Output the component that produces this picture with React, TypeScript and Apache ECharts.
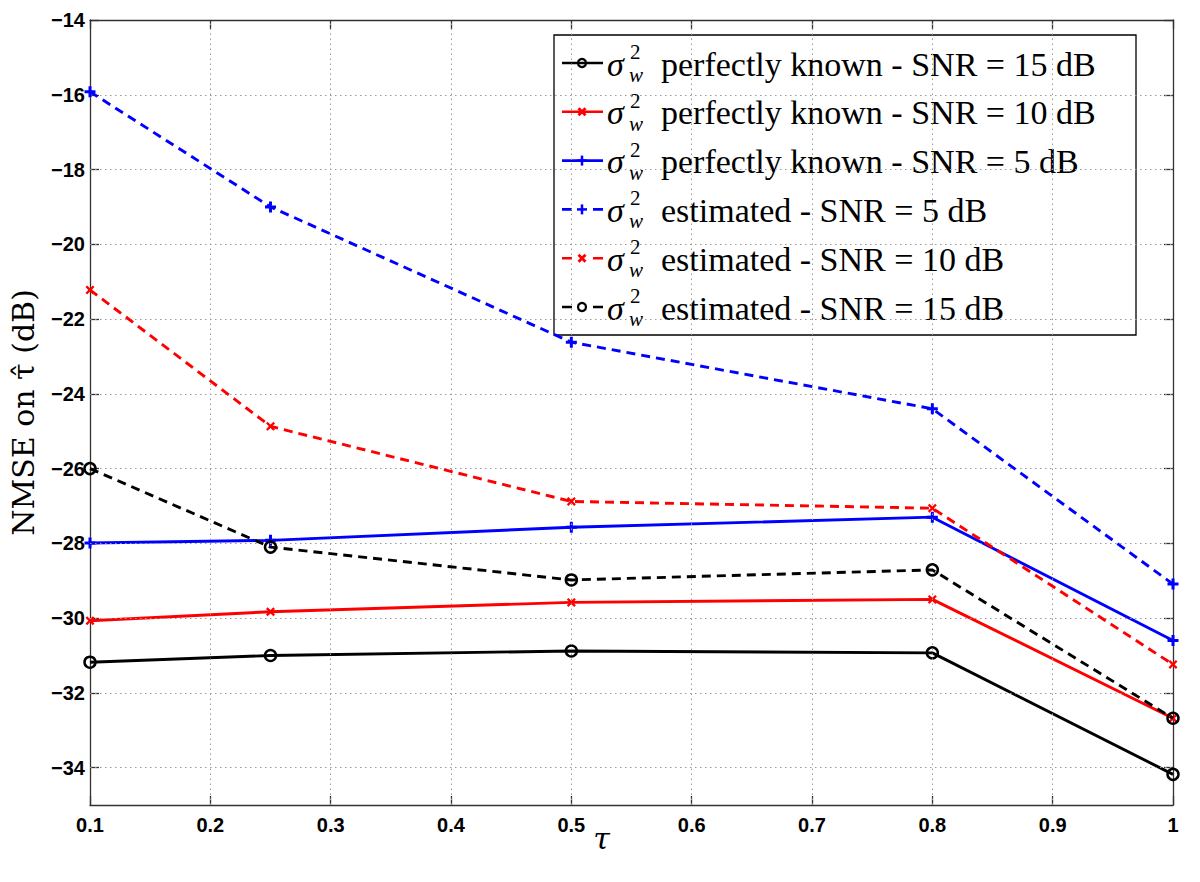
import React, { useEffect, useRef } from 'react';
import * as echarts from 'echarts';

// ---- data ----
const tauValues = [0.1, 0.25, 0.5, 0.8, 1];
const knownSnr15 = [-31.18, -31.0, -30.88, -30.93, -34.18];
const knownSnr10 = [-30.07, -29.83, -29.58, -29.5, -32.68];
const knownSnr5 = [-27.99, -27.92, -27.57, -27.3, -30.6];
const estSnr5 = [-15.92, -19.0, -22.62, -24.4, -29.09];
const estSnr10 = [-21.22, -24.87, -26.88, -27.06, -31.24];
const estSnr15 = [-26.0, -28.1, -28.98, -28.71, -32.68];

const legendLabels = [
  'perfectly known - SNR = 15 dB',
  'perfectly known - SNR = 10 dB',
  'perfectly known - SNR = 5 dB',
  'estimated - SNR = 5 dB',
  'estimated - SNR = 10 dB',
  'estimated - SNR = 15 dB',
];
const yTickValues = [-34, -32, -30, -28, -26, -24, -22, -20, -18, -16, -14];
const yGridValues = [-34, -32, -30, -28, -26, -24, -22, -20, -18, -16];
const xGridValues = [0.2, 0.3, 0.4, 0.5, 0.6, 0.7, 0.8, 0.9];

const BLUE = '#0000ff';
const RED = '#ff0000';
const BLACK = '#000000';
const PLUS = 'path://M4,0H7V4H11V7H7V11H4V7H0V4H4Z';
const CROSS = 'path://M2,0L5.5,3.5L9,0L11,2L7.5,5.5L11,9L9,11L5.5,7.5L2,11L0,9L3.5,5.5L0,2Z';

type Def = { data: number[]; color: string; dashed: boolean; marker: 'circle' | 'plus' | 'cross' };
const defs: Def[] = [
  { data: knownSnr15, color: BLACK, dashed: false, marker: 'circle' },
  { data: knownSnr10, color: RED, dashed: false, marker: 'cross' },
  { data: knownSnr5, color: BLUE, dashed: false, marker: 'plus' },
  { data: estSnr5, color: BLUE, dashed: true, marker: 'plus' },
  { data: estSnr10, color: RED, dashed: true, marker: 'cross' },
  { data: estSnr15, color: BLACK, dashed: true, marker: 'circle' },
];

const TICK_FONT = '"Liberation Sans", Arial, sans-serif';
const SERIF = '"DejaVu Serif", serif';
const LEGEND_FONT = 'Liberation Serif';
const ROW_Y0 = 63;
const ROW_STEP = 48.8;

function txt(text: string, x: number, y: number, size: number, italic: boolean) {
  return {
    type: 'text',
    style: {
      text,
      x,
      y,
      fill: '#000',
      align: 'left',
      verticalAlign: 'middle',
      fontFamily: LEGEND_FONT,
      fontSize: size,
      fontStyle: italic ? 'italic' : 'normal',
    },
  };
}

function buildLegend() {
  const children: any[] = [];
  children.push({
    type: 'rect',
    shape: { x: 554, y: 35, width: 582, height: 300 },
    style: { fill: '#fff', stroke: '#000', lineWidth: 1.3 },
  });
  defs.forEach((d, i) => {
    const y = ROW_Y0 + i * ROW_STEP;
    children.push({
      type: 'line',
      shape: { x1: 562, y1: y, x2: 603, y2: y },
      style: { stroke: d.color, lineWidth: 2.6, lineDash: d.dashed ? [10, 21] : null },
    });
    const cx = 582;
    if (d.marker === 'circle') {
      children.push({ type: 'circle', shape: { cx, cy: y, r: 4 }, style: { fill: 'none', stroke: d.color, lineWidth: 2.2 } });
    } else if (d.marker === 'plus') {
      children.push({ type: 'line', shape: { x1: cx - 5, y1: y, x2: cx + 5, y2: y }, style: { stroke: d.color, lineWidth: 2.5 } });
      children.push({ type: 'line', shape: { x1: cx, y1: y - 5, x2: cx, y2: y + 5 }, style: { stroke: d.color, lineWidth: 2.5 } });
    } else {
      children.push({ type: 'line', shape: { x1: cx - 3.5, y1: y - 3.5, x2: cx + 3.5, y2: y + 3.5 }, style: { stroke: d.color, lineWidth: 2.8 } });
      children.push({ type: 'line', shape: { x1: cx - 3.5, y1: y + 3.5, x2: cx + 3.5, y2: y - 3.5 }, style: { stroke: d.color, lineWidth: 2.8 } });
    }
    children.push(txt('σ', 607, y + 1, 34, true));
    children.push(txt('2', 630, y - 11, 21, false));
    children.push(txt('w', 629, y + 12, 21, true));
    children.push(txt(legendLabels[i], 661, y + 1, 34, false));
  });
  return [{ type: 'group', z: 100, children }];
}

export default function App() {
  const ref = useRef<HTMLDivElement>(null);
  useEffect(() => {
    if (!ref.current) return;
    const chart = echarts.init(ref.current, null, { renderer: 'svg' });
    const axisLineStyle = { color: '#333', width: 1.3 };
    const gridLineStyle = { color: '#999', width: 1, type: [1.5, 3.5] as any };
    const option: any = {
      animation: false,
      backgroundColor: '#fff',
      grid: { left: 87, right: 27, top: 20, bottom: 77, containLabel: false },
      xAxis: [
        {
          type: 'value',
          min: 0.1,
          max: 1,
          interval: 0.1,
          position: 'bottom',
          name: 'τ',
          nameLocation: 'middle',
          nameGap: 18,
          nameMoveOverlap: false,
          nameTextStyle: { fontSize: 30, fontStyle: 'italic', fontFamily: SERIF, color: '#000', padding: [0, 60, 0, 0] },
          axisLine: { show: true, lineStyle: axisLineStyle },
          axisTick: { show: true, inside: true, length: 9, lineStyle: axisLineStyle },
          axisLabel: {
            show: true,
            margin: 10,
            fontSize: 20,
            fontWeight: 'bold',
            fontFamily: TICK_FONT,
            color: '#000',
            formatter: (v: number) => String(+v.toFixed(1)),
          },
          splitLine: { show: false },
        },
        {
          type: 'value',
          min: 0.1,
          max: 1,
          interval: 0.1,
          position: 'top',
          axisLine: { show: true, lineStyle: axisLineStyle },
          axisTick: { show: true, inside: true, length: 9, lineStyle: axisLineStyle },
          axisLabel: { show: false },
          splitLine: { show: false },
        },
      ],
      yAxis: [
        {
          type: 'value',
          min: -35,
          max: -14,
          position: 'left',
          name: 'NMSE on τ\u0302 (dB)',
          nameLocation: 'middle',
          nameGap: 52,
          nameMoveOverlap: false,
          nameTextStyle: { fontSize: 30, fontFamily: SERIF, color: '#000' },
          axisLine: { show: true, lineStyle: axisLineStyle },
          axisTick: { show: true, inside: true, length: 9, lineStyle: axisLineStyle, customValues: yTickValues },
          axisLabel: {
            show: true,
            margin: 5,
            fontSize: 20,
            fontWeight: 'bold',
            fontFamily: TICK_FONT,
            color: '#000',
            customValues: yTickValues,
            formatter: (v: number) => (v < 0 ? '\u2212' + Math.abs(v) : String(v)),
          },
          splitLine: { show: false },
        },
        {
          type: 'value',
          min: -35,
          max: -14,
          position: 'right',
          axisLine: { show: true, lineStyle: axisLineStyle },
          axisTick: { show: true, inside: true, length: 9, lineStyle: axisLineStyle, customValues: yTickValues },
          axisLabel: { show: false, customValues: yTickValues },
          splitLine: { show: false },
        },
      ],
      graphic: buildLegend(),
      series: [
        {
          type: 'line',
          name: 'grid',
          data: [],
          silent: true,
          markLine: {
            silent: true,
            symbol: 'none',
            label: { show: false },
            lineStyle: gridLineStyle,
            animation: false,
            data: [
              ...yGridValues.map((v) => ({ yAxis: v })),
              ...xGridValues.map((v) => ({ xAxis: v })),
            ],
          },
        },
        ...defs.map((d, i) => ({
          type: 'line',
          name: 'σw² ' + legendLabels[i],
          data: tauValues.map((t, j) => [t, d.data[j]]),
          symbol: d.marker === 'circle' ? 'circle' : d.marker === 'plus' ? PLUS : CROSS,
          symbolSize: d.marker === 'circle' ? 11 : d.marker === 'plus' ? 11 : 9,
          showSymbol: true,
          lineStyle: { color: d.color, width: 2.9, type: d.dashed ? [9, 6] : 'solid' },
          itemStyle:
            d.marker === 'circle'
              ? { color: 'none', borderColor: d.color, borderWidth: 2.5 }
              : { color: d.color, borderWidth: 0 },
          emphasis: { disabled: true },
          z: 2 + i,
        })),
      ],
    };
    chart.setOption(option);
    return () => chart.dispose();
  }, []);
  return (
    <div
      ref={ref}
      style={{ position: 'absolute', left: 0, top: 0, width: 1200, height: 882, background: '#fff' }}
    />
  );
}
